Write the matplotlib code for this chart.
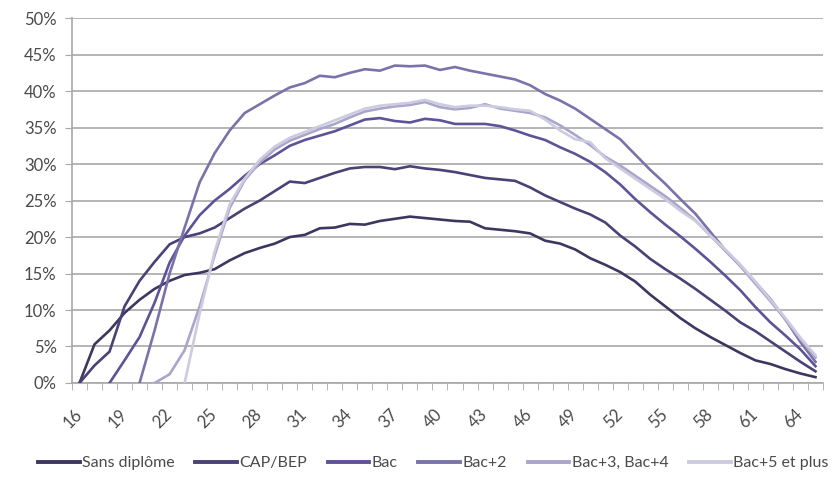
import numpy as np
import matplotlib.pyplot as plt
from matplotlib.ticker import PercentFormatter

plt.rcParams['font.family'] = ['Lato', 'DejaVu Sans']

nan = np.nan
ages = list(range(16, 66))

# parts en % par âge (16 -> 65)
sans_diplome = [0, 5.3, 7.2, 9.6, 11.4, 12.9, 14.0, 14.8, 15.1, 15.6,
                16.8, 17.8, 18.5, 19.1, 20.0, 20.3, 21.2, 21.3, 21.8, 21.7,
                22.2, 22.5, 22.8, 22.6, 22.4, 22.2, 22.1, 21.2, 21.0, 20.8,
                20.5, 19.5, 19.1, 18.3, 17.1, 16.2, 15.2, 13.9, 12.1, 10.5,
                8.9, 7.5, 6.3, 5.2, 4.1, 3.1, 2.6, 1.9, 1.3, 0.8]
cap_bep = [0, 2.4, 4.3, 10.5, 14.0, 16.6, 19.0, 20.0, 20.5, 21.3,
           22.6, 23.9, 25.0, 26.3, 27.6, 27.4, 28.1, 28.8, 29.4, 29.6,
           29.6, 29.3, 29.7, 29.4, 29.2, 28.9, 28.5, 28.1, 27.9, 27.7,
           26.8, 25.7, 24.8, 23.9, 23.1, 22.0, 20.2, 18.7, 17.0, 15.6,
           14.3, 12.9, 11.4, 9.9, 8.3, 7.1, 5.7, 4.3, 2.9, 1.6]
bac = [nan, nan, 0, 3.1, 6.3, 11.0, 16.5, 20.2, 23.0, 25.0,
       26.6, 28.4, 30.0, 31.2, 32.5, 33.3, 33.9, 34.5, 35.3, 36.1,
       36.3, 35.9, 35.7, 36.2, 36.0, 35.5, 35.5, 35.5, 35.2, 34.6,
       33.9, 33.3, 32.3, 31.4, 30.3, 28.9, 27.2, 25.2, 23.4, 21.7,
       20.1, 18.4, 16.6, 14.7, 12.7, 10.4, 8.3, 6.5, 4.6, 2.3]
bac2 = [nan, nan, nan, nan, 0, 7.2, 15.0, 21.3, 27.5, 31.5,
        34.6, 37.0, 38.2, 39.4, 40.5, 41.1, 42.1, 41.9, 42.5, 43.0,
        42.8, 43.5, 43.4, 43.5, 42.9, 43.3, 42.8, 42.4, 42.0, 41.6,
        40.8, 39.6, 38.7, 37.6, 36.2, 34.8, 33.4, 31.3, 29.2, 27.3,
        25.2, 23.2, 20.7, 18.2, 16.1, 13.8, 11.5, 8.7, 5.6, 2.9]
bac34 = [nan, nan, nan, nan, nan, 0, 1.2, 4.5, 10.5, 17.5,
         24.0, 27.8, 30.2, 32.0, 33.2, 34.0, 34.8, 35.5, 36.4, 37.2,
         37.6, 37.9, 38.1, 38.5, 37.8, 37.5, 37.7, 38.2, 37.6, 37.3,
         37.0, 36.4, 35.3, 34.0, 32.6, 31.0, 29.8, 28.4, 27.0, 25.6,
         24.0, 22.3, 20.2, 18.1, 16.0, 13.6, 11.2, 8.7, 6.0, 3.5]
bac5 = [nan, nan, nan, nan, nan, nan, nan, 0, 9.5, 18.0,
        24.5, 28.0, 30.6, 32.4, 33.6, 34.4, 35.2, 36.0, 36.8, 37.6,
        38.0, 38.2, 38.4, 38.8, 38.2, 37.8, 38.0, 38.0, 37.8, 37.5,
        37.3, 36.1, 34.6, 33.4, 33.0, 30.8, 29.4, 28.0, 26.6, 25.2,
        23.6, 22.2, 20.2, 18.3, 16.2, 13.9, 11.4, 8.9, 6.2, 3.8]

noms = ["Sans diplôme", "CAP/BEP", "Bac", "Bac+2", "Bac+3, Bac+4", "Bac+5 et plus"]
series = [sans_diplome, cap_bep, bac, bac2, bac34, bac5]
couleurs = ["#3d3760", "#4a4176", "#5f5296", "#7a73aa", "#aaa5cb", "#cdcbdf"]

fig = plt.figure(figsize=(8.33, 4.9), dpi=100)
ax = fig.add_axes([0.0864, 0.2184, 0.9016, 0.7446])

x = np.arange(len(ages))
for vals, nom, c in zip(series, noms, couleurs):
    ax.plot(x, np.array(vals) / 100, color=c, lw=1.9, label=nom, zorder=3)

ax.set_xlim(-0.5, len(ages) - 0.5)
ax.set_ylim(0, 0.5)
ax.set_yticks(np.arange(0, 0.51, 0.05))
ax.yaxis.set_major_formatter(PercentFormatter(1.0, decimals=0))
ax.grid(axis='y', color='#a8a8a8', lw=1.2, zorder=0)

# étiquettes tous les 3 ans, graduations entre catégories
ax.set_xticks(x[::3], [str(a) for a in ages[::3]])
ax.set_xticks(np.arange(-0.5, len(ages), 1), minor=True)
ax.tick_params(axis='x', which='minor', length=5, color='#a8a8a8', direction='out')
ax.tick_params(axis='x', which='major', length=0, pad=21, labelsize=12,
               labelcolor='#4a4a4a')
for lab in ax.get_xticklabels():
    lab.set_rotation(45)
    lab.set_ha('right')
    lab.set_va('center')
    lab.set_rotation_mode('anchor')
ax.tick_params(axis='y', length=5, color='#a8a8a8', pad=6, labelsize=12,
               labelcolor='#4a4a4a')

for s in ['top', 'right']:
    ax.spines[s].set_visible(False)
for s in ['left', 'bottom']:
    ax.spines[s].set_color('#a8a8a8')
    ax.spines[s].set_linewidth(1.2)

leg = fig.legend(loc='center', bbox_to_anchor=(0.52, 0.055), ncol=6, frameon=False,
                 fontsize=11.5, handlelength=2.6, handletextpad=0.15, columnspacing=1.3,
                 labelcolor='#4a4a4a')
for h in leg.legend_handles:
    h.set_linewidth(2.8)

fig.savefig("out.png", dpi=100)
